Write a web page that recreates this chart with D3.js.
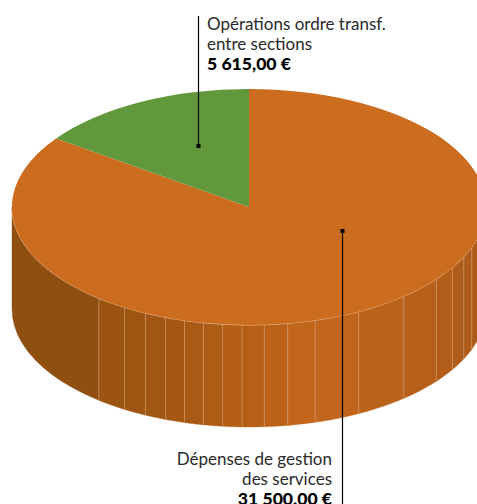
<!DOCTYPE html>
<html>

<head>
  <meta charset="utf-8">
  <title>Pie 3D</title>
  <script src="https://d3js.org/d3.v7.min.js"></script>
  <style>
    html, body { margin: 0; padding: 0; background: #fff; overflow: hidden; }
    svg { display: block; }
    text { font-family: Lato, sans-serif; font-size: 17px; fill: #2a2a2a; }
    tspan.amount { font-weight: 900; font-size: 17.6px; fill: #000; }
  </style>
</head>

<body>
  <svg width="477" height="504"></svg>
  <script>
    const categories = ["Dépenses de gestion|des services", "Opérations ordre transf.|entre sections"];
    const amounts = [31500, 5615];
    const amountLabels = ["31 500,00 €", "5 615,00 €"];
    const sliceColors = ["#cc6c1f", "#61983b"];

    // angles (deg, clockwise from 12 o'clock) of the seams on the side wall
    const seamAngles = [110, 115, 120.9, 127.8, 139.2, 152.4, 163.8, 170.6, 176.3, 181.7, 186.4, 191.1, 195.8, 200.6, 205.9, 211.7, 219.3];
    const wallEnd = [90, 270];
    // colour of each wall strip, right to left, one more than there are seams
    const stripColors = ["#ad5a18", "#af5b19", "#b05c1a", "#b35d1a", "#b65e1a", "#bb621b", "#c0651b", "#c2661b", "#bb6218", "#b85f17", "#b45e16", "#ad5c15", "#a95a14", "#a55813", "#a15613", "#9e5512", "#9c5412", "#8f4f10"];

    const svg = d3.select("svg");

    const cx = 249, cy = 207, rx = 237, ry = 118, depth = 102;
    const rad = (d) => d * Math.PI / 180;
    const px = (a) => cx + rx * Math.sin(rad(a));
    const py = (a) => cy - ry * Math.cos(rad(a));

    const pie = d3.pie().sort(null).startAngle(0).endAngle(2 * Math.PI);
    const arcs = pie(amounts);

    // side wall, one strip between each pair of seams
    const edges = [wallEnd[0], ...seamAngles, wallEnd[1]];

    const wallArea = d3.area()
      .x((a) => px(a))
      .y0((a) => py(a))
      .y1((a) => py(a) + depth);

    d3.pairs(edges).forEach(([a0, a1], i) => {
      const pts = d3.range(0, 1.0001, 1 / 12).map((t) => a0 + (a1 - a0) * t);
      svg.append("path")
        .attr("d", wallArea(pts))
        .attr("fill", stripColors[i])
        .attr("stroke", stripColors[i])
        .attr("stroke-width", 0.4);
    });

    seamAngles.forEach((a) => {
      svg.append("line")
        .attr("x1", px(a)).attr("x2", px(a))
        .attr("y1", py(a)).attr("y2", py(a) + depth)
        .attr("stroke", "#d9a273")
        .attr("stroke-opacity", 0.75)
        .attr("stroke-width", 0.8);
    });

    // light rim along the front edge of the top
    svg.append("path")
      .attr("d", d3.line().x(px).y(py)(d3.range(wallEnd[0], wallEnd[1] + 1, 2)))
      .attr("fill", "none")
      .attr("stroke", "#e8b48a")
      .attr("stroke-width", 1);

    // top of the pie, a flat d3 arc squashed into an ellipse
    const arc = d3.arc().innerRadius(0).outerRadius(rx);
    svg.append("g")
      .attr("transform", `translate(${cx},${cy}) scale(1,${ry / rx})`)
      .selectAll("path")
      .data(arcs)
      .join("path")
      .attr("d", arc)
      .attr("fill", (d, i) => sliceColors[i]);

    // leader lines
    const leaders = [
      { x: 342, y1: 231, y2: 504, i: 0 },
      { x: 198, y1: 16, y2: 146, i: 1 }
    ];
    leaders.forEach((l) => {
      svg.append("line")
        .attr("x1", l.x + 0.5).attr("x2", l.x + 0.5)
        .attr("y1", l.y1).attr("y2", l.y2)
        .attr("stroke", "#000")
        .attr("stroke-width", 1.2);
      const dotY = l.i === 0 ? l.y1 : l.y2;
      svg.append("rect")
        .attr("x", l.x - 1.5).attr("y", dotY - 2)
        .attr("width", 4).attr("height", 4)
        .attr("fill", "#000");
    });

    // labels
    function label(i, x, y, anchor) {
      const t = svg.append("text").attr("text-anchor", anchor);
      categories[i].split("|").forEach((s, k) => {
        t.append("tspan").attr("x", x).attr("y", y + k * 20).text(s);
      });
      t.append("tspan").attr("class", "amount").attr("x", x).attr("y", y + 40).text(amountLabels[i]);
    }
    label(1, 207, 30, "start");
    label(0, 332, 464.5, "end");
  </script>
</body>

</html>
